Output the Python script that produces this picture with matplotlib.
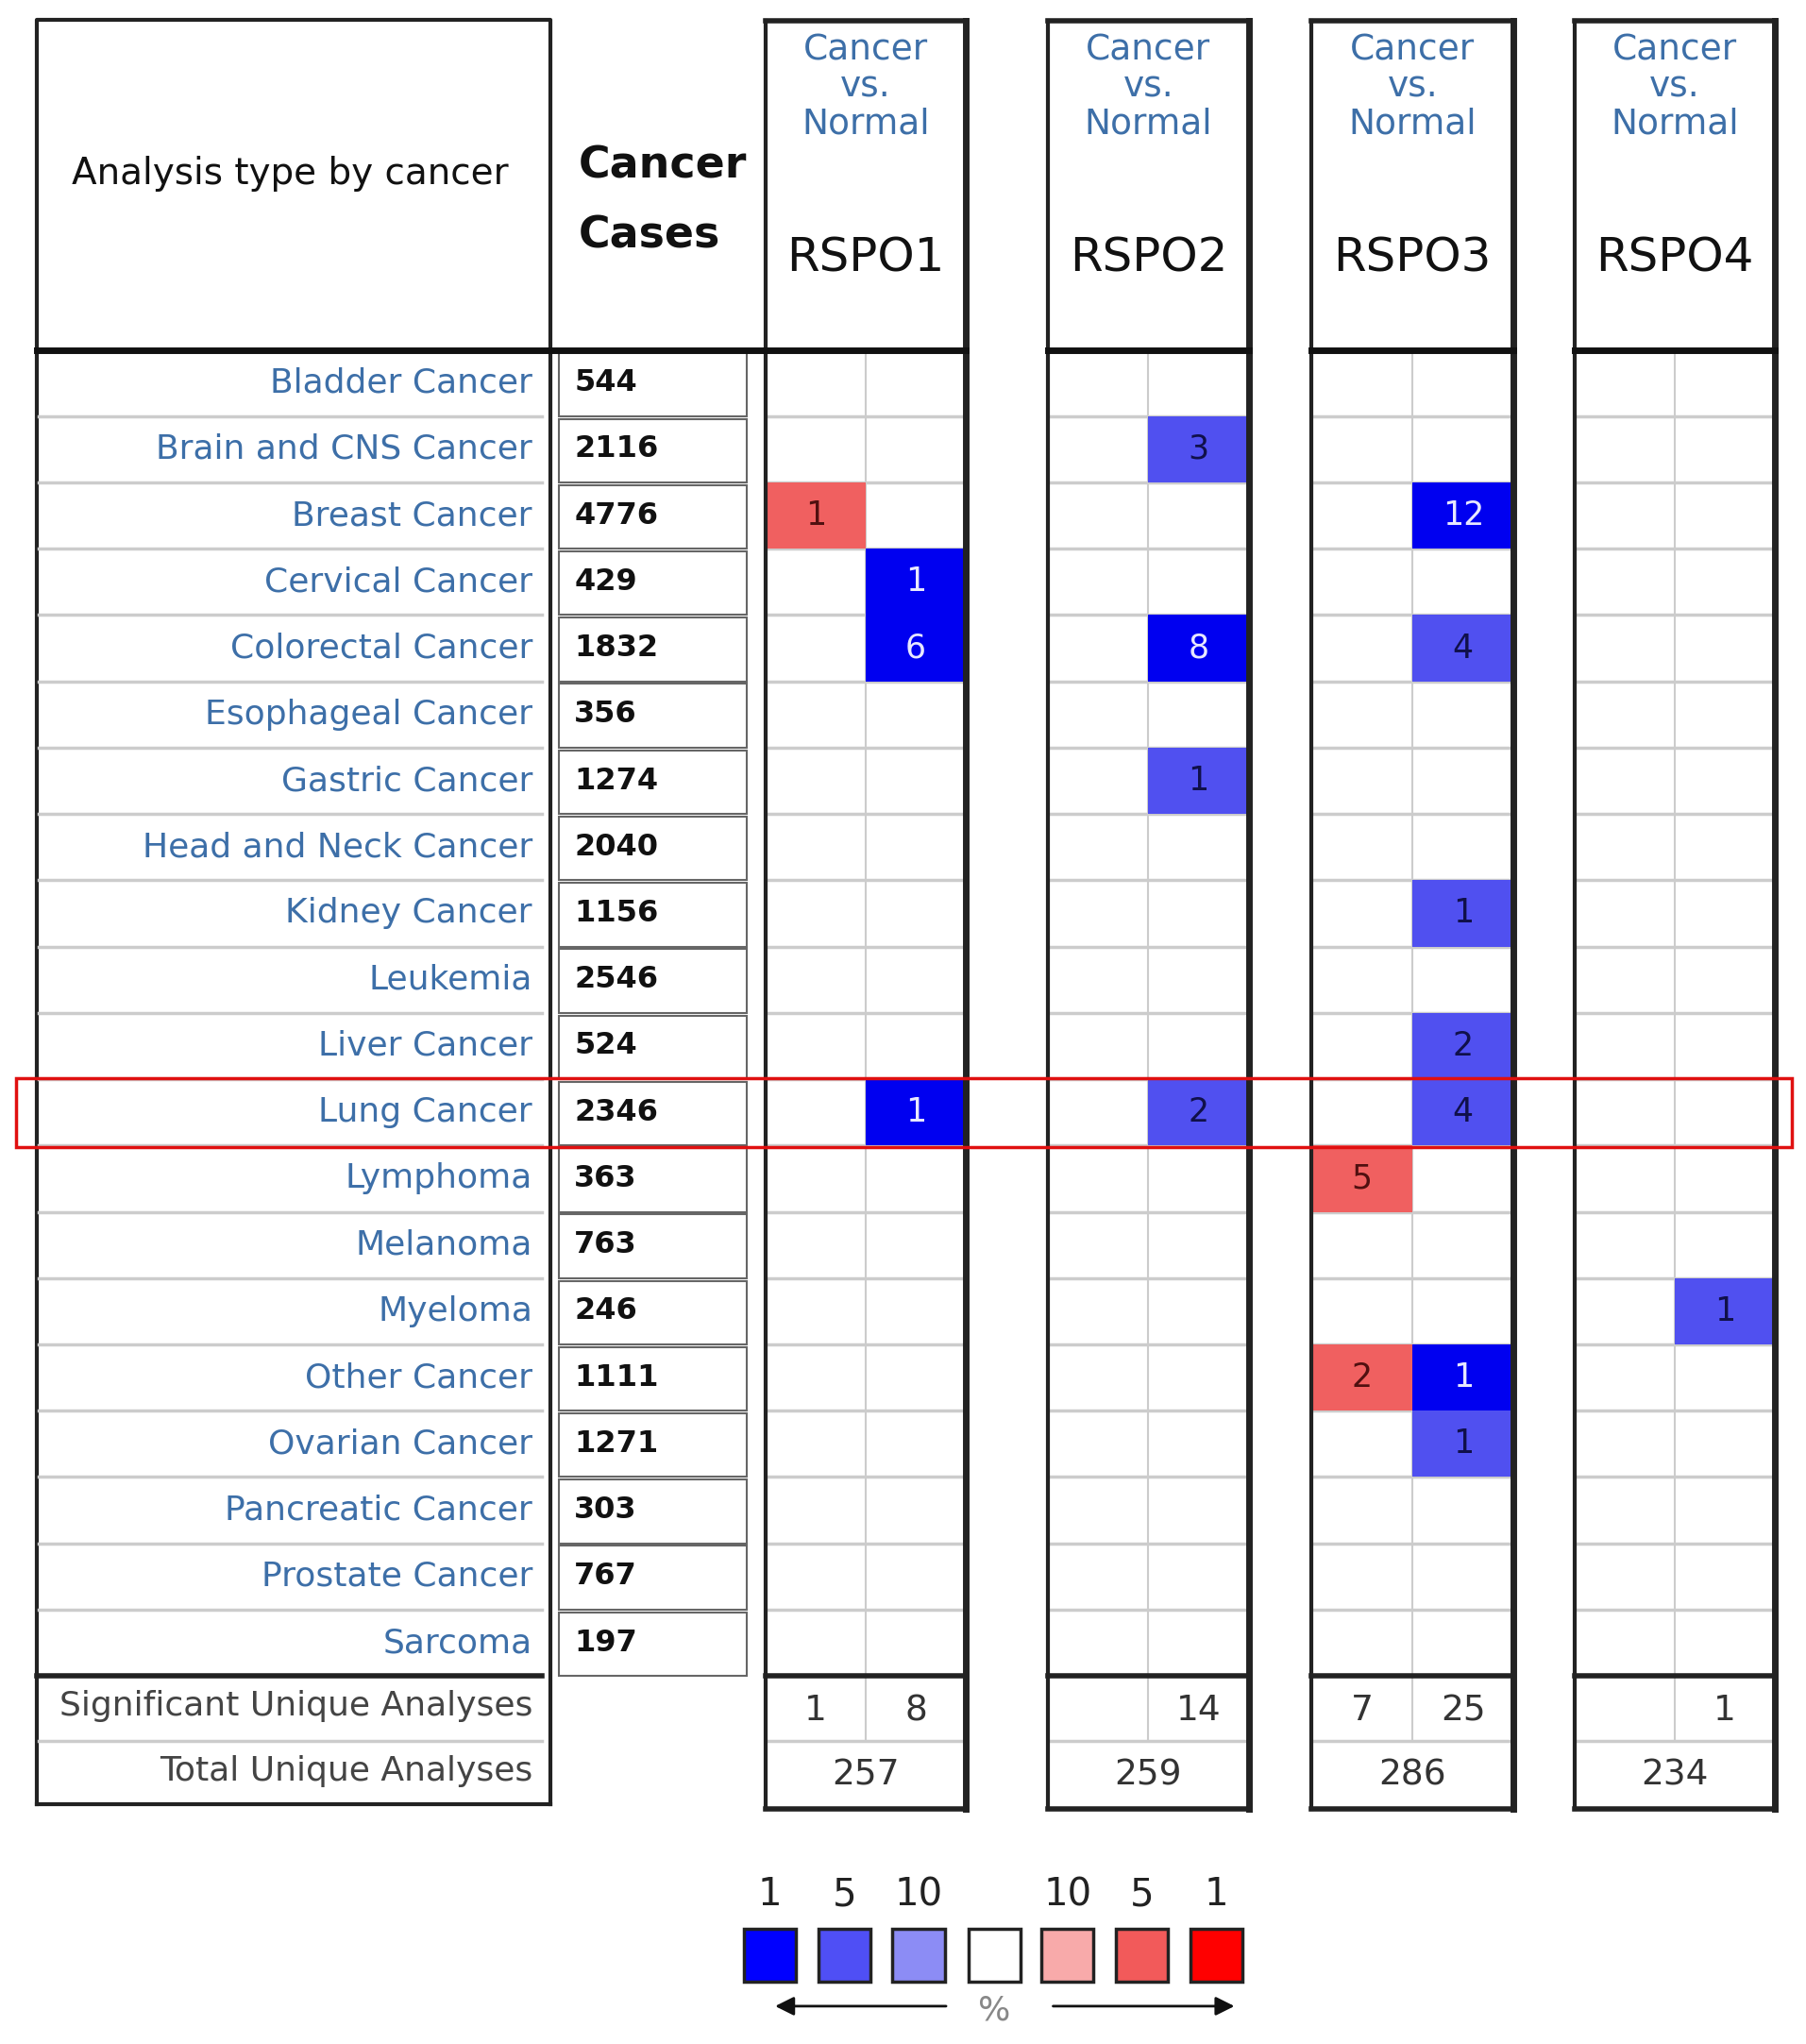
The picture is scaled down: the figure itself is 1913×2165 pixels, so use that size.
import matplotlib
matplotlib.use('Agg')
import matplotlib.pyplot as plt
from matplotlib.patches import Rectangle

cancer_types = ['Bladder Cancer', 'Brain and CNS Cancer', 'Breast Cancer', 'Cervical Cancer',
                'Colorectal Cancer', 'Esophageal Cancer', 'Gastric Cancer', 'Head and Neck Cancer',
                'Kidney Cancer', 'Leukemia', 'Liver Cancer', 'Lung Cancer', 'Lymphoma', 'Melanoma',
                'Myeloma', 'Other Cancer', 'Ovarian Cancer', 'Pancreatic Cancer', 'Prostate Cancer',
                'Sarcoma']
cancer_cases = [544, 2116, 4776, 429, 1832, 356, 1274, 2040, 1156, 2546, 524, 2346, 363, 763,
                246, 1111, 1271, 303, 767, 197]
genes = ['RSPO1', 'RSPO2', 'RSPO3', 'RSPO4']

# (cancer type, number of analyses, top gene rank % level)
rspo1_up = [('Breast Cancer', 1, 5)]
rspo1_down = [('Cervical Cancer', 1, 1), ('Colorectal Cancer', 6, 1), ('Lung Cancer', 1, 1)]
rspo2_up = []
rspo2_down = [('Brain and CNS Cancer', 3, 5), ('Colorectal Cancer', 8, 1),
              ('Gastric Cancer', 1, 5), ('Lung Cancer', 2, 5)]
rspo3_up = [('Lymphoma', 5, 5), ('Other Cancer', 2, 5)]
rspo3_down = [('Breast Cancer', 12, 1), ('Colorectal Cancer', 4, 5), ('Kidney Cancer', 1, 5),
              ('Liver Cancer', 2, 5), ('Lung Cancer', 4, 5), ('Other Cancer', 1, 1),
              ('Ovarian Cancer', 1, 5)]
rspo4_up = []
rspo4_down = [('Myeloma', 1, 5)]

sig_up = [1, None, 7, None]
sig_down = [8, 14, 25, 1]
total_analyses = [257, 259, 286, 234]

legend_labels = ['1', '5', '10', '', '10', '5', '1']
legend_colors = ['#0000ff', '#4f4ff5', '#8c8cf5', '#ffffff', '#f8aaaa', '#f25a5a', '#ff0000']

up_colors = {1: '#ff0000', 5: '#f06060', 10: '#f8aaaa'}
down_colors = {1: '#0000f0', 5: '#5050f0', 10: '#8c8cf5'}
up_text = {1: '#400000', 5: '#501010', 10: '#501010'}
down_text = {1: '#e8e8ff', 5: '#10104a', 10: '#10104a'}

label_blue = '#3d6fa8'

fig = plt.figure(figsize=(19.13, 21.65), dpi=100)
ax = fig.add_axes([0, 0, 1, 1])
ax.set_xlim(0, 1384)
ax.set_ylim(1566, 0)
ax.axis('off')

row_top = 268
row_h = 50.8
n = len(cancer_types)
grid_bot = row_top + n * row_h
sig_bot = grid_bot + 50
left_bot = sig_bot + 48

# ---- left table ----
ax.plot([28, 28, 422, 422], [left_bot, 15, 15, left_bot], color='#222', lw=3)
ax.plot([28, 422], [left_bot, left_bot], color='#222', lw=3)
ax.plot([28, 585], [row_top, row_top], color='#111', lw=5)
ax.plot([28, 415], [grid_bot, grid_bot], color='#222', lw=4)
ax.plot([30, 415], [sig_bot, sig_bot], color='#cccccc', lw=2.5)
ax.text(222, 133, 'Analysis type by cancer', ha='center', va='center', fontsize=28, color='#111')
ax.text(443, 127, 'Cancer', ha='left', va='center', fontsize=33, fontweight='bold', color='#111')
ax.text(443, 181, 'Cases', ha='left', va='center', fontsize=33, fontweight='bold', color='#111')

for i, (name, c) in enumerate(zip(cancer_types, cancer_cases)):
    y0 = row_top + i * row_h
    if i > 0:
        ax.plot([30, 415], [y0, y0], color='#cccccc', lw=2.5)
    ax.text(408, y0 + row_h / 2, name, ha='right', va='center', fontsize=26,
            color=label_blue)
    ax.add_patch(Rectangle((428, y0 + 2), 144, row_h - 2, fill=False, edgecolor='#666', lw=1.5))
    ax.text(440, y0 + row_h / 2, str(c), ha='left', va='center', fontsize=23,
            fontweight='bold', color='#111')

ax.text(408, grid_bot + 23, 'Significant Unique Analyses', ha='right', va='center',
        fontsize=26, color='#444')
ax.text(408, sig_bot + 23, 'Total Unique Analyses', ha='right', va='center',
        fontsize=26, color='#444')

# ---- gene panels ----
panel_x = [(587, 740), (803, 957), (1005, 1160), (1207, 1360)]
panel_up = [rspo1_up, rspo2_up, rspo3_up, rspo4_up]
panel_down = [rspo1_down, rspo2_down, rspo3_down, rspo4_down]
p_bot = sig_bot + 52

for g, (x0, x1) in enumerate(panel_x):
    xm = (x0 + x1) / 2
    # grid
    for i in range(1, n):
        y = row_top + i * row_h
        ax.plot([x0, x1], [y, y], color='#cccccc', lw=2.5, zorder=1)
    ax.plot([xm, xm], [row_top, sig_bot], color='#cccccc', lw=1.5, zorder=1)
    # coloured cells
    for cells, left, cmap, tmap in [(panel_up[g], True, up_colors, up_text),
                                    (panel_down[g], False, down_colors, down_text)]:
        for name, cnt, lvl in cells:
            i = cancer_types.index(name)
            cx0 = x0 if left else xm
            ax.add_patch(Rectangle((cx0, row_top + i * row_h), xm - x0, row_h,
                                   facecolor=cmap[lvl], edgecolor='none', zorder=2))
            ax.text(cx0 + (xm - x0) / 2, row_top + (i + 0.5) * row_h, str(cnt),
                    ha='center', va='center', fontsize=25, color=tmap[lvl], zorder=3)
    # header
    ax.text(xm, 39, 'Cancer', ha='center', va='center', fontsize=27, color=label_blue)
    ax.text(xm, 67, 'vs.', ha='center', va='center', fontsize=27, color=label_blue)
    ax.text(xm, 95, 'Normal', ha='center', va='center', fontsize=27, color=label_blue)
    ax.text(xm, 198, genes[g], ha='center', va='center', fontsize=36, color='#111')
    # borders
    ax.plot([x0, x1], [16, 16], color='#222', lw=4, zorder=4)
    ax.plot([x0, x0], [16, p_bot], color='#222', lw=3, zorder=4)
    ax.plot([x1, x1], [16, p_bot], color='#222', lw=5, zorder=4)
    ax.plot([x0, x1], [p_bot, p_bot], color='#222', lw=4, zorder=4)
    ax.plot([x0, x1], [row_top, row_top], color='#111', lw=5, zorder=4)
    ax.plot([x0, x1], [grid_bot, grid_bot], color='#222', lw=4, zorder=4)
    ax.plot([x0, x1], [sig_bot, sig_bot], color='#cccccc', lw=2.5, zorder=1)
    # summary rows
    if sig_up[g] is not None:
        ax.text((x0 + xm) / 2, grid_bot + 27, str(sig_up[g]), ha='center', va='center',
                fontsize=27, color='#333')
    ax.text((xm + x1) / 2, grid_bot + 27, str(sig_down[g]), ha='center', va='center',
            fontsize=27, color='#333')
    ax.text(xm, sig_bot + 26, str(total_analyses[g]), ha='center', va='center',
            fontsize=27, color='#333')

# highlight around Lung Cancer row
li = cancer_types.index('Lung Cancer')
ax.add_patch(Rectangle((12, row_top + li * row_h - 1), 1361, row_h + 2, fill=False,
                       edgecolor='#e01010', lw=2.5, zorder=5))

# ---- legend ----
leg_x = [590, 647, 704, 762, 818, 875, 932]
for x, lab, col in zip(leg_x, legend_labels, legend_colors):
    ax.add_patch(Rectangle((x - 20, 1478), 40, 40, facecolor=col, edgecolor='#222', lw=2.5))
    ax.text(x, 1452, lab, ha='center', va='center', fontsize=29, color='#222')
ax.annotate('', xy=(592, 1537), xytext=(727, 1537),
            arrowprops=dict(arrowstyle='-|>', color='#111', lw=2, mutation_scale=30))
ax.annotate('', xy=(948, 1537), xytext=(805, 1537),
            arrowprops=dict(arrowstyle='-|>', color='#111', lw=2, mutation_scale=30))
ax.text(762, 1540, '%', ha='center', va='center', fontsize=26, color='#888')

fig.savefig('out.png', dpi=100, facecolor='white')
